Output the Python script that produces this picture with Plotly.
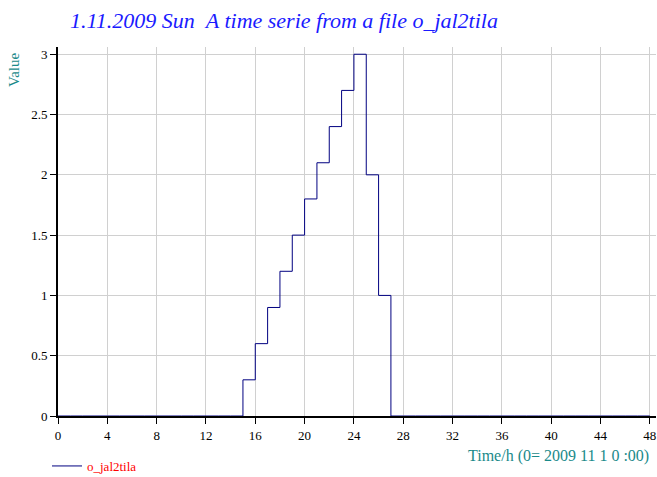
import plotly.graph_objects as go

# Hourly values of o_jal2tila, starting 2009-11-01 00:00
hours = list(range(0, 49))
values = [0.0] * 15 + [0.3, 0.6, 0.9, 1.2, 1.5, 1.8, 2.1, 2.4, 2.7, 3.0, 2.0, 1.0] + [0.0] * 22

x_ticks = list(range(0, 49, 4))
y_ticks = [0, 0.5, 1, 1.5, 2, 2.5, 3]
y_tick_text = ["0", "0.5", "1", "1.5", "2", "2.5", "3"]

series_name = "o_jal2tila"
title_text = "1.11.2009 Sun\u00a0\u00a0A time serie from a file o_jal2tila"
x_title = "Time/h (0= 2009 11 1 0 :00)"
y_title = "Value"

FONT = "Liberation Serif"
TEAL = "#1a8a8a"

fig = go.Figure()
fig.add_trace(go.Scatter(
    x=hours, y=values, name=series_name, mode="lines",
    line=dict(shape="hv", color="#000080", width=1),
    showlegend=True,
))

fig.update_layout(
    width=657, height=477,
    margin=dict(l=58, r=1, t=47, b=61),
    plot_bgcolor="white", paper_bgcolor="white",
    font=dict(family=FONT, size=12, color="black"),
    title=dict(
        text=title_text, xref="container", yref="container",
        x=70 / 657, xanchor="left", y=1 - 20 / 477, yanchor="middle",
        font=dict(family=FONT, size=22, color="#1a1aff", style="italic"),
    ),
    xaxis=dict(
        range=[0, 48.5], tickvals=x_ticks, ticks="outside", ticklen=6,
        tickcolor="black", tickwidth=1, showgrid=True, gridcolor="#d0d0d0",
        gridwidth=1, showline=True, linecolor="black", linewidth=2,
        zeroline=False, layer="below traces",
        tickfont=dict(family=FONT, size=13, color="black"),
    ),
    yaxis=dict(
        range=[0, 3.06], tickvals=y_ticks, ticktext=y_tick_text,
        ticks="outside", ticklen=6, tickcolor="black", tickwidth=1,
        showgrid=True, gridcolor="#d0d0d0", gridwidth=1,
        showline=True, linecolor="black", linewidth=2, zeroline=False,
        layer="below traces",
        tickfont=dict(family=FONT, size=13, color="black"),
    ),
    legend=dict(
        xref="container", yref="container", x=47 / 657, y=1 - 451 / 477,
        xanchor="left", yanchor="top", orientation="h",
        font=dict(family=FONT, size=13, color="red"),
        bgcolor="rgba(0,0,0,0)", itemwidth=30,
    ),
    annotations=[
        dict(text=y_title, xref="paper", yref="paper",
             x=-44 / 598, y=1 + (47 - 70) / 369, xanchor="center",
             yanchor="middle", textangle=-90, showarrow=False,
             font=dict(family=FONT, size=15, color=TEAL)),
        dict(text=x_title, xref="paper", yref="paper",
             x=(651 - 58) / 598, y=-(456 - 416) / 369, xanchor="right",
             yanchor="middle", showarrow=False,
             font=dict(family=FONT, size=16, color=TEAL)),
    ],
)

fig.write_html("out.html")
